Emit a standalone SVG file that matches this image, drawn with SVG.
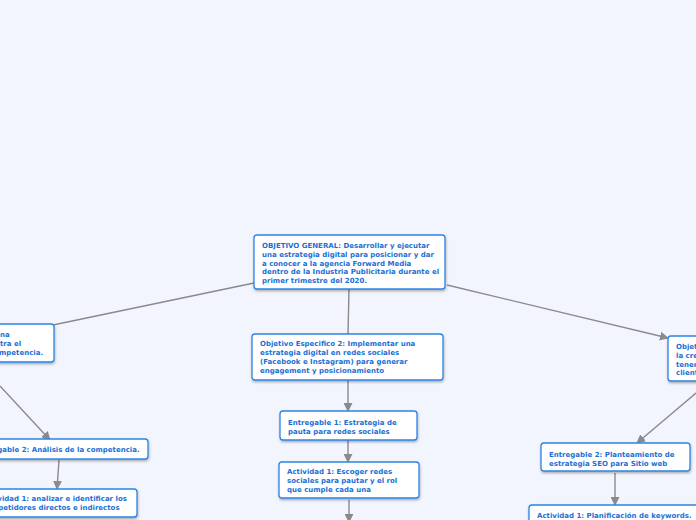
<svg xmlns="http://www.w3.org/2000/svg" width="696" height="520" viewBox="0 0 696 520">
<defs>
<marker id="ah" viewBox="0 0 10 10" refX="9" refY="5" markerWidth="9" markerHeight="9" markerUnits="userSpaceOnUse" orient="auto">
<path d="M0,0 L10,5 L0,10 z" fill="#8a8a8a"/>
</marker>
<filter id="sh" x="-10%" y="-20%" width="120%" height="150%">
<feDropShadow dx="0.5" dy="1.5" stdDeviation="1" flood-color="#000" flood-opacity="0.3"/>
</filter>
</defs>
<style>
.bx{fill:#ffffff;stroke:#2c84e6;stroke-width:1.3;filter:url(#sh)}
.t{font-family:"DejaVu Sans",Verdana,sans-serif;font-weight:bold;font-size:7px;fill:#1b6fd6}
.c{stroke:#8a8a8a;stroke-width:1.4;fill:none}
.ca{stroke:#8a8a8a;stroke-width:1.4;fill:none;marker-end:url(#ah)}
</style>
<rect width="696" height="520" fill="#f2f5fd"/>
<g id="connectors">
<line class="c" x1="254" y1="283" x2="53" y2="325"/>
<line class="c" x1="349" y1="289" x2="348" y2="334"/>
<line class="ca" x1="447" y1="285" x2="668" y2="338"/>
<line class="ca" x1="0" y1="386" x2="50" y2="440"/>
<line class="ca" x1="59" y1="460" x2="57" y2="489"/>
<line class="ca" x1="348" y1="380" x2="348" y2="411"/>
<line class="ca" x1="348" y1="440" x2="348" y2="462"/>
<line class="ca" x1="349" y1="500" x2="349" y2="522"/>
<line class="ca" x1="696" y1="393" x2="637" y2="443"/>
<line class="ca" x1="615" y1="473" x2="615" y2="505"/>
</g>
<g id="objetivo-general">
<rect class="bx" x="254" y="235" width="191" height="54" rx="3"/>
<text class="t" x="262" y="248">OBJETIVO GENERAL: Desarrollar y ejecutar</text>
<text class="t" x="262" y="257">una estrategia digital para posicionar y dar</text>
<text class="t" x="262" y="265.5">a conocer a la agencia Forward Media</text>
<text class="t" x="262" y="274">dentro de la Industria Publicitaria durante el</text>
<text class="t" x="262" y="283">primer trimestre del 2020.</text>
</g>
<g id="objetivo-1">
<rect class="bx" x="-140" y="324" width="194" height="38" rx="3"/>
<text class="t" x="0" y="337">na</text>
<text class="t" x="0" y="346">tra el</text>
<text class="t" x="-1" y="355">mpetencia.</text>
</g>
<g id="objetivo-2">
<rect class="bx" x="252" y="334" width="191" height="46" rx="3"/>
<text class="t" x="260" y="346">Objetivo Especifico 2: Implementar una</text>
<text class="t" x="260" y="355">estrategia digital en redes sociales</text>
<text class="t" x="260" y="364">(Facebook e Instagram) para generar</text>
<text class="t" x="260" y="372.5">engagement y posicionamiento</text>
</g>
<g id="objetivo-3">
<rect class="bx" x="668" y="336" width="120" height="45" rx="3"/>
<text class="t" x="676" y="349">Objet</text>
<text class="t" x="676" y="358">la cre</text>
<text class="t" x="676" y="366.5">tener</text>
<text class="t" x="676" y="375">client</text>
</g>
<g id="entregable-1">
<rect class="bx" x="280" y="411" width="137" height="29" rx="3"/>
<text class="t" x="288" y="425">Entregable 1: Estrategia de</text>
<text class="t" x="288" y="434">pauta para redes sociales</text>
</g>
<g id="actividad-1-centro">
<rect class="bx" x="279" y="462" width="140" height="36" rx="3"/>
<text class="t" x="287" y="474">Actividad 1: Escoger redes</text>
<text class="t" x="287" y="483">sociales para pautar y el rol</text>
<text class="t" x="287" y="492">que cumple cada una</text>
</g>
<g id="entregable-2-izq">
<rect class="bx" x="-32" y="439" width="180" height="20" rx="3"/>
<text class="t" x="-24" y="452">Entregable 2: Análisis de la competencia.</text>
</g>
<g id="actividad-1-izq">
<rect class="bx" x="-26" y="489" width="163" height="28" rx="3"/>
<text class="t" x="-18" y="501">Actividad 1: analizar e identificar los</text>
<text class="t" x="-18" y="510">competidores directos e indirectos</text>
</g>
<g id="entregable-2-der">
<rect class="bx" x="541" y="443" width="149" height="28" rx="3"/>
<text class="t" x="549" y="457">Entregable 2: Planteamiento de</text>
<text class="t" x="549" y="466">estrategia SEO para Sitio web</text>
</g>
<g id="actividad-1-der">
<rect class="bx" x="529" y="505" width="180" height="30" rx="3"/>
<text class="t" x="537" y="518">Actividad 1: Planificación de keywords.</text>
</g>
</svg>
